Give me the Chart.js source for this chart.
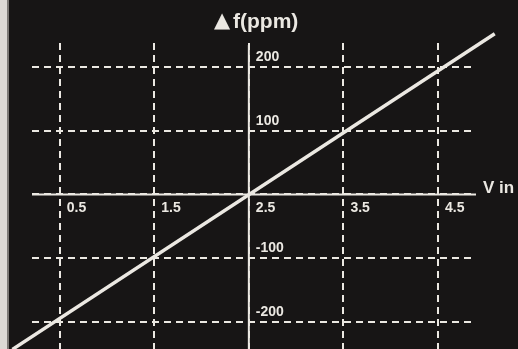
<!DOCTYPE html>
<html lang="en">

<head>
    <meta charset="UTF-8">
    <title>f(ppm) vs V in</title>
    <script src="https://cdn.jsdelivr.net/npm/chart.js"></script>
    <style>
        html, body { margin: 0; padding: 0; background: #171515; }
        canvas { display: block; }
    </style>
</head>

<body>
    <canvas id="myChartPpm" width="518" height="349"></canvas>
</body>

</html>
<script>
    // values
    const xTicks = [0.5, 1.5, 2.5, 3.5, 4.5];
    const xLabels = ['0.5', '1.5', '2.5', '3.5', '4.5'];
    const yTicks = [-200, -100, 0, 100, 200];
    const yLabels = ['-200', '-100', '', '100', '200'];
    const voltage = [0, 5.1];
    const freqPpm = [-243, 252];

    const xTitle = 'V in';
    const yMarker = '\u25B2';
    const yTitle = 'f(ppm)';

    const ink = '#ebe8e2';
    const ctxPpm = document.getElementById('myChartPpm');

    // paper background, axes through the origin and the text
    const drawExtras = {
        id: 'drawExtras',
        beforeDraw(chart) {
            const c = chart.ctx;
            c.save();
            c.fillStyle = '#171515';
            c.fillRect(0, 0, chart.width, chart.height);
            c.fillStyle = '#dcd9d5';
            c.fillRect(0, 0, 7, chart.height);
            c.fillStyle = '#7c7976';
            c.fillRect(7, 0, 2, chart.height);
            c.restore();
        },
        beforeDatasetsDraw(chart) {
            const c = chart.ctx;
            const area = chart.chartArea;
            const x0 = chart.scales.x.getPixelForValue(2.5);
            const y0 = chart.scales.y.getPixelForValue(0);
            c.save();
            c.strokeStyle = ink;
            c.lineWidth = 2;
            c.beginPath();
            c.moveTo(area.left, y0);
            c.lineTo(area.right, y0);
            c.moveTo(x0, area.top + 2);
            c.lineTo(x0, area.bottom);
            c.stroke();
            c.restore();
        },
        afterDraw(chart) {
            const c = chart.ctx;
            const sx = chart.scales.x;
            const sy = chart.scales.y;
            const x0 = sx.getPixelForValue(2.5);
            const y0 = sy.getPixelForValue(0);
            c.save();
            c.fillStyle = ink;
            c.textBaseline = 'alphabetic';
            c.textAlign = 'left';
            c.font = 'bold 14px "Liberation Sans", Arial, sans-serif';
            for (let i = 0; i < xTicks.length; i++) {
                c.fillText(xLabels[i], sx.getPixelForValue(xTicks[i]) + 7, y0 + 18);
            }
            for (let i = 0; i < yTicks.length; i++) {
                if (yLabels[i] == '') continue;
                c.fillText(yLabels[i], x0 + 7, sy.getPixelForValue(yTicks[i]) - 6);
            }
            c.font = 'bold 17px "Liberation Sans", Arial, sans-serif';
            c.fillText(xTitle, 483, y0 - 1);
            c.font = 'bold 21px "DejaVu Sans", sans-serif';
            c.fillText(yMarker, 214, 27);
            c.font = 'bold 21px "Liberation Sans", Arial, sans-serif';
            c.fillText(yTitle, 233, 28);
            c.restore();
        }
    };

    new Chart(ctxPpm, {
        type: 'scatter',
        data: {
            datasets: [{
                label: 'f(ppm)',
                data: voltage.map((v, i) => ({ x: v, y: freqPpm[i] })),
                showLine: true,
                borderColor: ink,
                borderWidth: 3.5,
                pointRadius: 0,
                clip: false
            }]
        },
        options: {
            responsive: false,
            animation: false,
            layout: {
                padding: { left: 32, right: 42, top: 43, bottom: 0 }
            },
            plugins: {
                legend: { display: false },
                tooltip: { enabled: false }
            },
            scales: {
                x: {
                    type: 'linear',
                    min: 0.207,
                    max: 4.902,
                    afterBuildTicks: (scale) => {
                        scale.ticks = xTicks.map(v => ({ value: v }));
                    },
                    ticks: { display: false },
                    grid: { color: ink, lineWidth: 2, drawTicks: false },
                    border: { display: false, dash: [7, 5] }
                },
                y: {
                    type: 'linear',
                    min: -242.4,
                    max: 237.6,
                    afterBuildTicks: (scale) => {
                        scale.ticks = yTicks.map(v => ({ value: v }));
                    },
                    ticks: { display: false },
                    grid: { color: ink, lineWidth: 2, drawTicks: false },
                    border: { display: false, dash: [7, 5] }
                }
            }
        },
        plugins: [drawExtras]
    });
</script>
